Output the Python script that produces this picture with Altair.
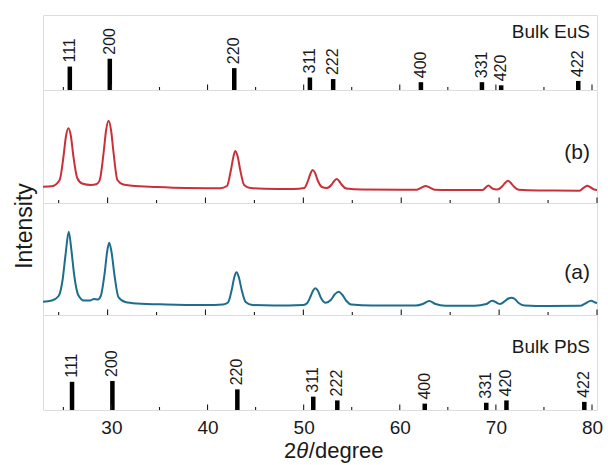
import altair as alt
import pandas as pd

FONT = "Liberation Sans"
X_DOMAIN = [23.4, 80]
W = 554
H_EUS, H_B, H_A, H_PBS = 75, 113, 112, 95

# Reference stick patterns (2theta in degree, relative intensity)
hkl = ["111", "200", "220", "311", "222", "400", "331", "420", "422"]
eus_2theta = [25.67, 29.83, 42.78, 50.65, 53.07, 62.2, 68.55, 70.55, 78.57]
eus_int = [75, 100, 70, 40, 35, 25, 25, 15, 29]
pbs_2theta = [25.9, 30.1, 43.1, 51.0, 53.5, 62.6, 69.0, 71.1, 79.2]
pbs_int = [97, 100, 71, 46, 33, 22, 25, 33, 28]

# Sample (b) pattern (a.u.)
b_2theta = [23.4, 24.3, 25.1, 25.5, 25.75, 26.0, 26.25, 26.5, 26.9, 27.4, 28.3, 28.9,
            29.2, 29.6, 29.85, 30.1, 30.35, 30.6, 31.0, 31.6, 32.5, 35, 38, 41.5,
            42.2, 42.6, 42.85, 43.05, 43.3, 43.55, 43.95, 44.6, 46, 49, 50.1, 50.5,
            50.75, 50.95, 51.2, 51.45, 51.9, 52.4, 52.9, 53.15, 53.4, 53.65, 53.9, 54.4,
            56, 60, 61.6, 62.1, 62.5, 62.9, 63.4, 65, 68.3, 68.9, 69.3, 69.8,
            70.3, 70.6, 70.9, 71.2, 71.5, 72.0, 74, 78.2, 78.7, 79.0, 79.3, 79.7, 80.0]
b_int = [163, 167, 230, 470, 670, 747, 670, 470, 250, 195, 180, 190,
         230, 510, 730, 823, 730, 510, 230, 185, 173, 160, 150, 147,
         170, 330, 460, 520, 460, 330, 180, 150, 143, 140, 150, 230,
         300, 330, 300, 230, 160, 150, 185, 220, 240, 220, 185, 145,
         135, 133, 133, 155, 170, 155, 133, 130, 130, 175, 145, 135,
         165, 200, 223, 200, 165, 133, 125, 123, 157, 173, 160, 135, 130]

# Sample (a) pattern (a.u.)
a_2theta = [23.4, 24.3, 25.0, 25.4, 25.7, 26.03, 26.3, 26.6, 27.0, 27.6, 28.2, 28.6,
            29.0, 29.3, 29.7, 29.95, 30.16, 30.4, 30.7, 31.1, 31.8, 33, 36, 40,
            41.8, 42.3, 42.7, 42.95, 43.17, 43.4, 43.7, 44.1, 44.8, 47, 50, 50.4,
            50.8, 51.0, 51.23, 51.5, 51.8, 52.3, 52.8, 53.2, 53.6, 54.0, 54.4, 54.9,
            57, 61.5, 62.2, 62.86, 63.5, 64.5, 67.5, 68.7, 69.3, 69.8, 70.1, 70.6,
            70.95, 71.27, 71.6, 72.0, 72.6, 75, 78.3, 78.8, 79.4, 79.8, 80.0]
a_int = [133, 145, 190, 350, 600, 833, 650, 390, 200, 145, 145, 160,
         155, 190, 420, 630, 723, 630, 400, 180, 130, 115, 105, 100,
         105, 125, 260, 380, 427, 380, 250, 130, 100, 95, 100, 120,
         200, 245, 267, 240, 170, 123, 150, 205, 233, 200, 140, 105,
         95, 95, 110, 140, 110, 93, 93, 110, 143, 120, 110, 140,
         165, 173, 160, 120, 95, 90, 92, 115, 143, 125, 120]

major_ticks = [30, 40, 50, 60, 70, 80]
minor_ticks = [25, 35, 45, 55, 65, 75]
panel_labels = ["Bulk EuS", "(b)", "(a)", "Bulk PbS"]
x_title_parts = ["2", "θ", "/degree"]
y_title = "Intensity"

RED = "#c9303a"
BLUE = "#1d6d8d"
INK = "#1a1a1a"

bottom_axis = alt.Axis(values=major_ticks, ticks=False, tickSize=0, domain=False, grid=False,
                       labelFont=FONT, labelFontSize=19, labelColor=INK, labelPadding=8,
                       labelFlush=False, title=None)


def xenc(axis=None):
    return alt.X("t:Q", scale=alt.Scale(domain=X_DOMAIN, nice=False, zero=False), axis=axis)


def tick_layers(h, axis=None):
    major = alt.Chart(pd.DataFrame({"t": major_ticks})).mark_rule(color=INK, strokeWidth=1.1).encode(
        x=xenc(axis), y=alt.value(h), y2=alt.value(h - 5.5))
    minor = alt.Chart(pd.DataFrame({"t": minor_ticks})).mark_rule(color=INK, strokeWidth=1.1).encode(
        x=xenc(axis), y=alt.value(h), y2=alt.value(h - 3))
    return [major, minor]


def label(text, x, y, size, align="right", baseline="alphabetic", angle=None, style="normal"):
    kw = dict(align=align, baseline=baseline, fontSize=size, font=FONT, color=INK, fontStyle=style)
    if angle is not None:
        kw["angle"] = angle
    return alt.Chart(pd.DataFrame({"s": [text]})).mark_text(**kw).encode(
        text="s:N", x=alt.value(x), y=alt.value(y))


def stick_panel(tt, ii, dom, h, name_label, label_y, axis=None, extra=()):
    df = pd.DataFrame({"t": tt, "I": ii, "hkl": hkl})
    base = alt.Chart(df)
    bars = base.mark_bar(size=4.5, color="black").encode(
        x=xenc(axis), y=alt.Y("I:Q", scale=alt.Scale(domain=dom, nice=False), axis=None))
    txt = base.mark_text(angle=270, align="left", baseline="middle", dx=4, fontSize=16,
                         font=FONT, color=INK).encode(
        x=xenc(axis), y=alt.Y("I:Q", scale=alt.Scale(domain=dom, nice=False), axis=None), text="hkl:N")
    return alt.layer(bars, txt, *tick_layers(h, axis),
                     label(name_label, W - 7, label_y, 19), *extra).properties(width=W, height=h)


def curve_panel(tt, ii, dom, h, color, name_label, label_y, extra=()):
    df = pd.DataFrame({"t": tt, "I": ii})
    line = alt.Chart(df).mark_line(color=color, strokeWidth=2, interpolate="monotone").encode(
        x=xenc(), y=alt.Y("I:Q", scale=alt.Scale(domain=dom, nice=False), axis=None))
    layers = [line, *tick_layers(h), label(name_label, W - 7, label_y, 21, baseline="middle"), *extra]
    return alt.layer(*layers).properties(width=W, height=h)


# x-axis title "2θ/degree" with italic theta, placed under the bottom panel
TS = 22
xt = [
    label(x_title_parts[0], 241, 143, TS, align="left"),
    label(x_title_parts[1], 241 + 0.556 * TS, 143, TS, align="left", style="italic"),
    label(x_title_parts[2], 241 + 1.13 * TS, 143, TS, align="left"),
]

eus = stick_panel(eus_2theta, eus_int, [0, 240], H_EUS, panel_labels[0], 22.7)
pan_b = curve_panel(b_2theta, b_int, [0, 1130], H_B, RED, panel_labels[1], 63)
ylab = label(y_title, -18.5, 23, 23, align="center", baseline="middle", angle=270)
pan_a = curve_panel(a_2theta, a_int, [0, 1120], H_A, BLUE, panel_labels[2], 70, extra=[ylab])
pbs = stick_panel(pbs_2theta, pbs_int, [0, 327], H_PBS, panel_labels[3], 38, axis=bottom_axis, extra=xt)

chart = alt.vconcat(eus, pan_b, pan_a, pbs, spacing=0, bounds="flush").properties(
    padding={"left": 12, "top": 14, "right": 0, "bottom": 0}
).configure_view(stroke="black", strokeWidth=1.8).configure(background="white")

chart.save("out.html", embed_options={"renderer": "svg", "actions": False})
